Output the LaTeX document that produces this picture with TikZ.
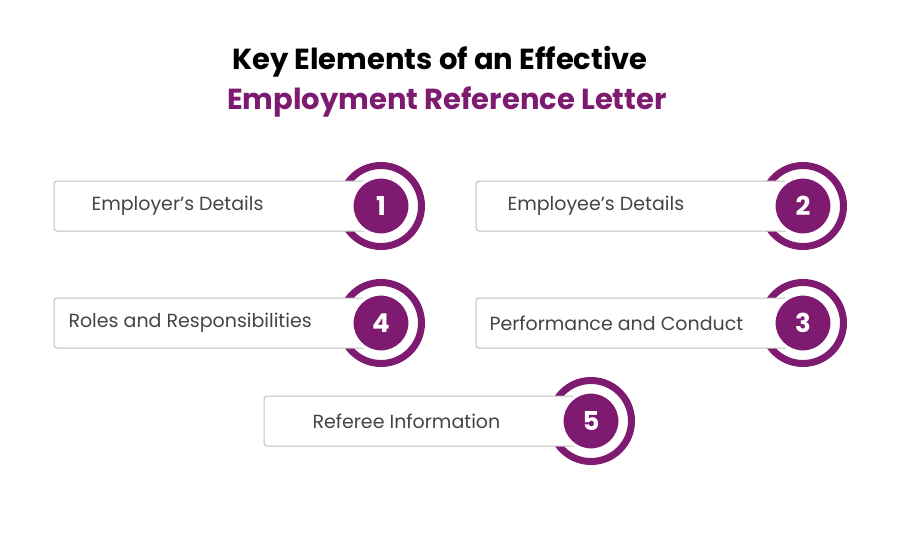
\documentclass[tikz,border=0pt]{standalone}
\usepackage{fontspec}
\setmainfont{Poppins}
\definecolor{pur}{HTML}{7E1A6F}
\definecolor{txt}{HTML}{444444}
\begin{document}
\begin{tikzpicture}[x=1pt,y=-1pt,
  box/.style={draw=black!25,line width=1pt,fill=white,rounded corners=3pt},
  lbl/.style={font=\fontsize{19}{22}\selectfont,text=txt,anchor=west},
  num/.style={circle,fill=pur,draw=white,line width=3pt,minimum size=58pt,inner sep=0pt,text=white,font=\fontsize{26}{28}\selectfont\bfseries}]
\useasboundingbox (0,0) rectangle (898,544);
\node[font=\fontsize{29}{34}\selectfont\bfseries] (t1) at (440,62) {Key Elements of an Effective};
\node[font=\fontsize{29}{34}\selectfont\bfseries,text=pur] (t2) at (447,102) {Employment Reference Letter};
\foreach \n/\cx/\cy/\bx/\txt/\tx in {1/381/206/54/{Employer’s Details}/88, 2/803/206/476/{Employee’s Details}/504, 4/381/323/54/{Roles and Responsibilities}/65, 3/803/323/476/{Performance and Conduct}/486, 5/591/421/264/{Referee Information}/309}{
  \draw[pur,line width=7pt] (\cx,\cy) circle (40.5);
  \draw[box] (\bx,\cy-25) rectangle (\cx-10,\cy+25);
  \node[lbl] (l\n) at (\tx,\cy) {\txt};
  \node[num] (n\n) at (\cx,\cy) {\n};
}
\end{tikzpicture}
\end{document}
